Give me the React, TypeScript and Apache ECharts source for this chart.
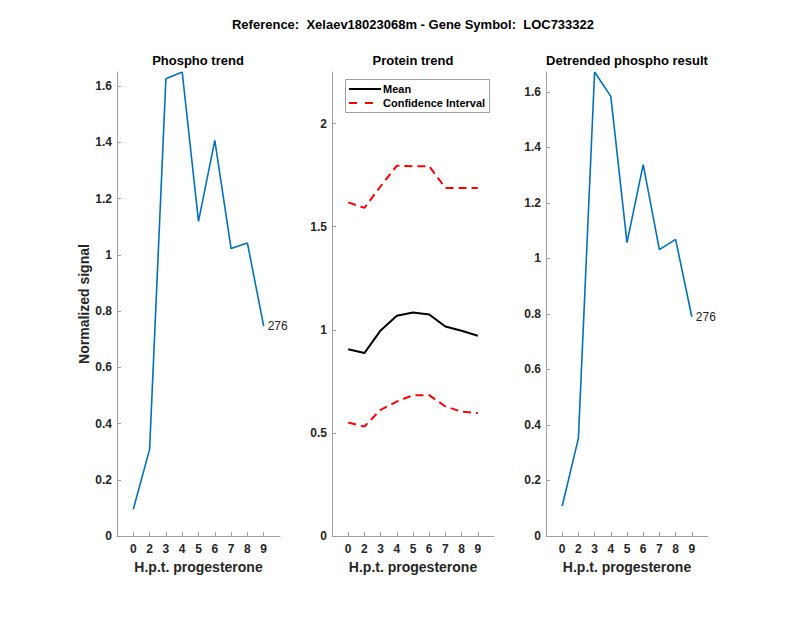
import React, { useEffect, useRef } from "react";
import * as echarts from "echarts";

const hours = ["0", "2", "3", "4", "5", "6", "7", "8", "9"];
const phospho = [0.095, 0.308, 1.626, 1.65, 1.119, 1.407, 1.022, 1.042, 0.746];
const proteinMean = [0.906, 0.887, 0.997, 1.068, 1.084, 1.074, 1.016, 0.995, 0.971];
const ciUpper = [1.618, 1.591, 1.696, 1.796, 1.793, 1.793, 1.688, 1.688, 1.688];
const ciLower = [0.55, 0.531, 0.612, 0.652, 0.683, 0.683, 0.628, 0.603, 0.596];
const detrended = [0.108, 0.352, 1.672, 1.584, 1.057, 1.338, 1.032, 1.069, 0.79];
const ticks1 = [0, 0.2, 0.4, 0.6, 0.8, 1, 1.2, 1.4, 1.6];
const ticks2 = [0, 0.5, 1, 1.5, 2];
const ticks3 = [0, 0.2, 0.4, 0.6, 0.8, 1, 1.2, 1.4, 1.6];
const peptideId = "276";
const legendNames = ["Mean", "Confidence Interval"];

const FONT = "Liberation Sans, Helvetica, Arial, sans-serif";
const AXIS_COLOR = "#a0a0a0";
const TEXT_COLOR = "#262626";

export default function App() {
  const ref = useRef<HTMLDivElement>(null);
  useEffect(() => {
    if (!ref.current) return;
    const chart = echarts.init(ref.current, undefined, { renderer: "svg" });
    const cats = [" ", ...hours, "  "];
    const pad = (arr: number[]) => [null, ...arr, null];

    const grids = [
      { left: 117, top: 72, width: 163, height: 464 },
      { left: 332, top: 72, width: 162, height: 464 },
      { left: 546, top: 72, width: 162, height: 464 },
    ];

    const xAxis = grids.map((_, i) => ({
      type: "category",
      gridIndex: i,
      data: cats,
      boundaryGap: false,
      axisLine: { show: true, lineStyle: { color: AXIS_COLOR, width: 1 } },
      axisTick: {
        show: true,
        inside: true,
        length: 4,
        interval: (idx: number) => idx > 0 && idx < cats.length - 1,
        lineStyle: { color: AXIS_COLOR },
      },
      axisLabel: {
        interval: 0,
        color: TEXT_COLOR,
        fontFamily: FONT,
        fontWeight: "bold",
        fontSize: 12,
        margin: 7,
      },
      splitLine: { show: false },
      name: "H.p.t. progesterone",
      nameLocation: "middle",
      nameGap: 22,
      nameTextStyle: { color: TEXT_COLOR, fontFamily: FONT, fontWeight: "bold", fontSize: 14 },
    }));

    const yDefs = [
      { max: 1.65, ticks: ticks1, name: "Normalized signal" },
      { max: 2.25, ticks: ticks2, name: "" },
      { max: 1.672, ticks: ticks3, name: "" },
    ];
    const yAxis = yDefs.map((d, i) => ({
      type: "value",
      gridIndex: i,
      min: 0,
      max: d.max,
      axisLine: { show: true, lineStyle: { color: AXIS_COLOR, width: 1 } },
      axisTick: { show: true, inside: true, length: 4, customValues: d.ticks, lineStyle: { color: AXIS_COLOR } },
      axisLabel: {
        customValues: d.ticks,
        color: TEXT_COLOR,
        fontFamily: FONT,
        fontWeight: "bold",
        fontSize: 12,
        margin: 5,
        formatter: (v: number) => String(Math.round(v * 10) / 10),
      },
      splitLine: { show: false },
      name: d.name,
      nameLocation: "middle",
      nameGap: 24,
      nameTextStyle: { color: TEXT_COLOR, fontFamily: FONT, fontWeight: "bold", fontSize: 14 },
    }));

    const endLabel = {
      show: true,
      formatter: peptideId,
      distance: 4,
      color: TEXT_COLOR,
      fontFamily: FONT,
      fontSize: 12,
    };

    const titles = [
      { text: "Reference:  Xelaev18023068m - Gene Symbol:  LOC733322", left: 413, top: 18, size: 13 },
      { text: "Phospho trend", left: 198, top: 54, size: 13 },
      { text: "Protein trend", left: 413, top: 54, size: 13 },
      { text: "Detrended phospho result", left: 627, top: 54, size: 13 },
    ].map((t) => ({
      text: t.text,
      left: t.left,
      top: t.top,
      textAlign: "center",
      padding: 0,
      textStyle: { color: "#000", fontFamily: FONT, fontWeight: "bold", fontSize: t.size },
    }));

    const legendFont = { fontFamily: FONT, fontWeight: "bold", fontSize: 11, fill: "#000" };
    const graphic = [
      {
        type: "rect",
        shape: { x: 345.5, y: 79.5, width: 144, height: 33 },
        style: { fill: "#fff", stroke: "#a0a0a0", lineWidth: 1 },
        z: 100,
      },
      {
        type: "line",
        shape: { x1: 349, y1: 89, x2: 381, y2: 89 },
        style: { stroke: "#000", lineWidth: 2 },
        z: 101,
      },
      {
        type: "line",
        shape: { x1: 349, y1: 103, x2: 373, y2: 103 },
        style: { stroke: "#ff0000", lineWidth: 2, lineDash: [8, 8] },
        z: 101,
      },
      {
        type: "text",
        x: 383,
        y: 89,
        style: { ...legendFont, text: legendNames[0], verticalAlign: "middle" },
        z: 101,
      },
      {
        type: "text",
        x: 383,
        y: 103,
        style: { ...legendFont, text: legendNames[1], verticalAlign: "middle" },
        z: 101,
      },
    ];

    chart.setOption({
      animation: false,
      backgroundColor: "#fff",
      title: titles,
      grid: grids,
      xAxis,
      yAxis,
      graphic,
      series: [
        {
          type: "line",
          xAxisIndex: 0,
          yAxisIndex: 0,
          data: pad(phospho),
          symbol: "none",
          lineStyle: { color: "#0072BD", width: 1.6 },
          itemStyle: { color: "#0072BD" },
          endLabel,
        },
        {
          name: legendNames[0],
          type: "line",
          xAxisIndex: 1,
          yAxisIndex: 1,
          data: pad(proteinMean),
          symbol: "none",
          lineStyle: { color: "#000", width: 2 },
          itemStyle: { color: "#000" },
        },
        {
          name: legendNames[1],
          type: "line",
          xAxisIndex: 1,
          yAxisIndex: 1,
          data: pad(ciUpper),
          symbol: "none",
          lineStyle: { color: "#ff0000", width: 2, type: [8, 5] },
          itemStyle: { color: "#ff0000" },
        },
        {
          name: legendNames[1],
          type: "line",
          xAxisIndex: 1,
          yAxisIndex: 1,
          data: pad(ciLower),
          symbol: "none",
          lineStyle: { color: "#ff0000", width: 2, type: [8, 5] },
          itemStyle: { color: "#ff0000" },
        },
        {
          type: "line",
          xAxisIndex: 2,
          yAxisIndex: 2,
          data: pad(detrended),
          symbol: "none",
          lineStyle: { color: "#0072BD", width: 1.6 },
          itemStyle: { color: "#0072BD" },
          endLabel,
        },
      ],
    });
    return () => chart.dispose();
  }, []);
  return (
    <div
      ref={ref}
      style={{ position: "fixed", left: 0, top: 0, width: 800, height: 618, background: "#fff" }}
    />
  );
}
